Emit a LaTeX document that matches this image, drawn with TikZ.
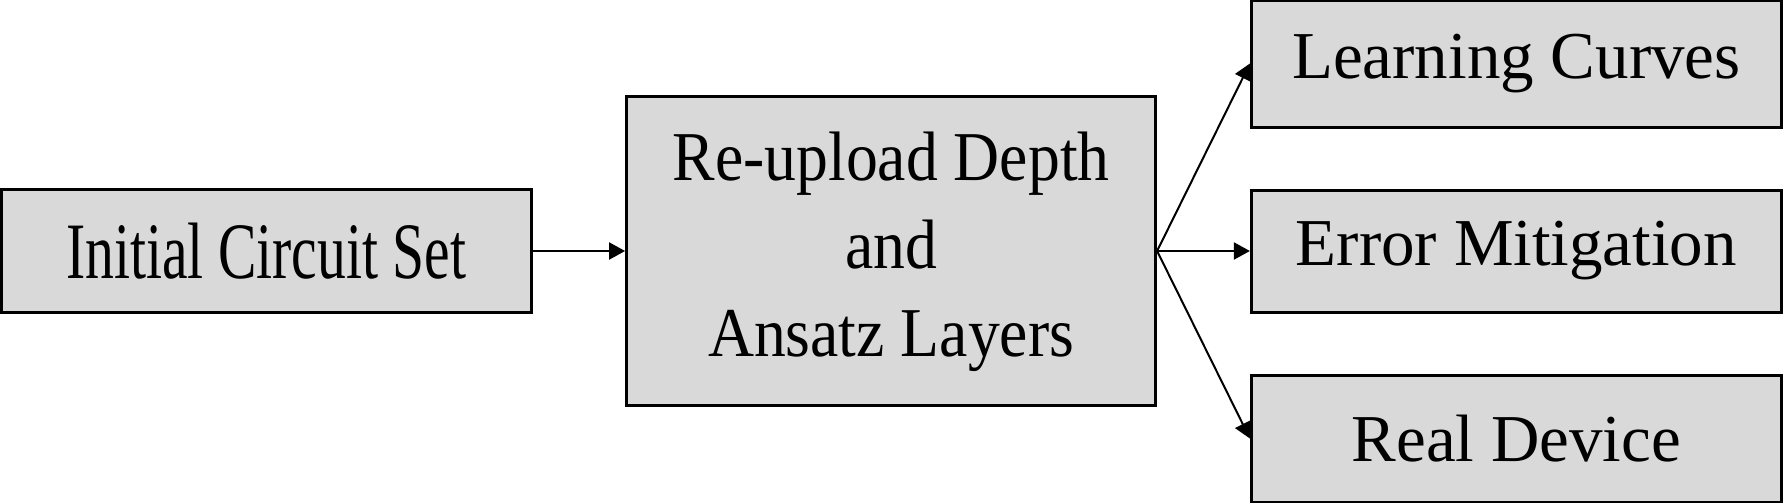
\documentclass[tikz,border=0pt]{standalone}
\usepackage{fontspec}
\setmainfont{Liberation Serif}
\usetikzlibrary{arrows.meta,positioning}
\definecolor{boxgray}{RGB}{217,217,217}
\tikzset{box/.style={draw,line width=1.5pt,fill=boxgray,minimum width=265pt,minimum height=63.5pt,inner sep=0pt,align=center}}

\begin{document}
\begin{tikzpicture}[node distance=30pt and 46.4pt,>={Triangle[length=8pt,width=8.5pt]},every node/.style={font=\fontsize{33.5}{44}\selectfont}]
\useasboundingbox (0,0) rectangle (891.5pt,-251.5pt);
\node[box,minimum height=61.5pt] (init) at (133pt,-125.5pt) {\scalebox{0.72}[1]{\fontsize{40}{48}\selectfont Initial Circuit Set}};
\node[box,minimum width=264.5pt,minimum height=154.5pt,right=46.3pt of init,font=\fontsize{35}{44}\selectfont] (depth) {\scalebox{0.91}[1]{\begin{tabular}{@{}c@{}}Re-upload Depth\\and\\Ansatz Layers\end{tabular}}};
\node[box,minimum height=61pt,right=of depth] (mitig) {Error Mitigation};
\node[box,above=of mitig] (curves) {Learning Curves};
\node[box,below=of mitig] (device) {Real Device};
\draw[->,line width=1pt] (init) -- (depth);
\draw[->,line width=1pt] (depth.east) -- (curves.west);
\draw[->,line width=1pt] (depth.east) -- (mitig.west);
\draw[->,line width=1pt] (depth.east) -- (device.west);
\end{tikzpicture}
\end{document}
